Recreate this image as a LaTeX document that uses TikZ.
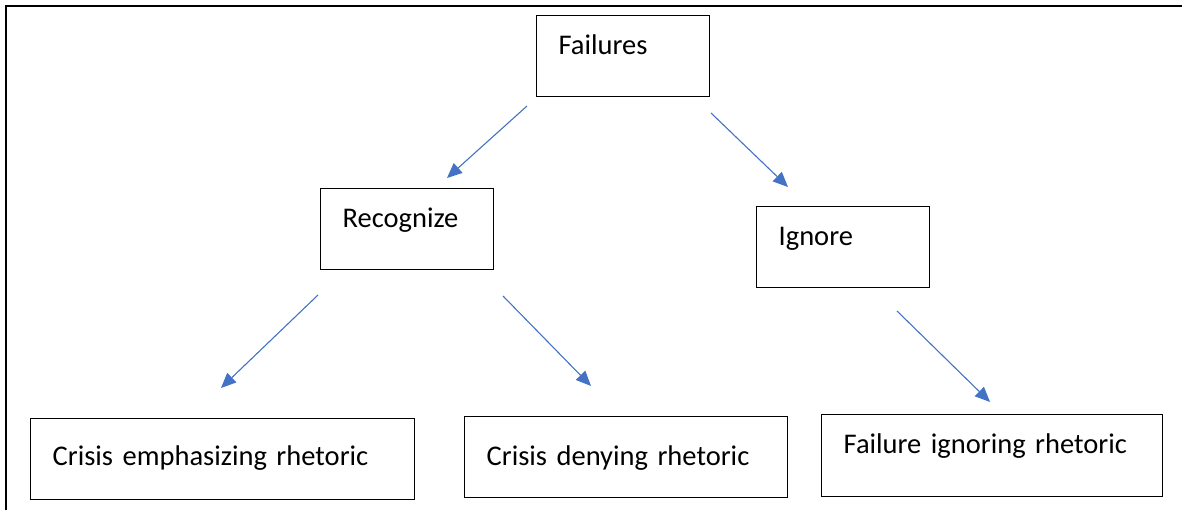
\documentclass[tikz,border=0pt]{standalone}
\usepackage{fontspec}
\setmainfont{Carlito}
\usetikzlibrary{arrows.meta}
\definecolor{arrowblue}{HTML}{4472C4}
\tikzset{
  box/.style={draw=black, line width=1.3pt, anchor=north west, inner xsep=22pt, inner ysep=0pt,
    align=left, font=\fontsize{28.5}{34}\selectfont, text height=39pt},
  conn/.style={draw=arrowblue, line width=1.1pt, -{Triangle[length=15pt,width=13pt]}},
  frameline/.style={line width=2pt, draw=black}
}
\begin{document}
\begin{tikzpicture}[x=1pt,y=-1pt]
\useasboundingbox (0,0) rectangle (1182,510);
\draw[frameline] (6,510) -- (6,6) -- (1182,6);
% boxes
\node[box, text width=129pt, text depth=42pt] (fail) at (536,15) {Failures};
\node[box, text width=129pt, text depth=42pt] (rec) at (320,188) {Recognize};
\node[box, text width=129pt, text depth=42pt] (ign) at (756,206) {Ignore};
\node[box, text width=340pt, text height=47pt, text depth=34pt] (emph) at (30,418) {Crisis emphasizing rhetoric};
\node[box, text width=279pt, text height=49pt, text depth=32pt] (deny) at (464,416) {Crisis denying rhetoric};
\node[box, text width=297pt, text height=39pt, text depth=43pt] (fign) at (821,414) {Failure ignoring rhetoric};
% connector ends
\coordinate (a1s) at (527,106); \coordinate (a1e) at (447,178);
\coordinate (a2s) at (711,113); \coordinate (a2e) at (788,187);
\coordinate (a3s) at (318,295); \coordinate (a3e) at (221,388);
\coordinate (a4s) at (503,296); \coordinate (a4e) at (591,386);
\coordinate (a5s) at (897,311); \coordinate (a5e) at (990,402);
\draw[conn] (a1s) -- (a1e);
\draw[conn] (a2s) -- (a2e);
\draw[conn] (a3s) -- (a3e);
\draw[conn] (a4s) -- (a4e);
\draw[conn] (a5s) -- (a5e);
\end{tikzpicture}
\end{document}
